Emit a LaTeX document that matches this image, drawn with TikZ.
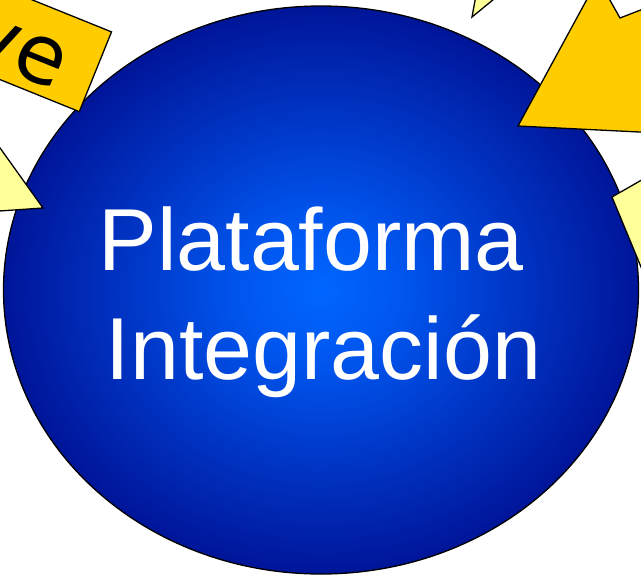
\documentclass[tikz,border=0pt]{standalone}
\usepackage{fontspec}
\setmainfont{Liberation Sans}
\newfontfamily\labelfont{DejaVu Sans}
\usetikzlibrary{shapes.geometric}
\definecolor{goldfill}{RGB}{255,204,0}
\definecolor{palefill}{RGB}{255,255,153}
\pgfdeclareradialshading{platglow}{\pgfpoint{0bp}{0bp}}{rgb(0bp)=(0,0.40,1);
  rgb(6bp)=(0,0.34,0.94); rgb(16bp)=(0,0.20,0.76); rgb(26bp)=(0,0.07,0.58);
  rgb(34bp)=(0,0.01,0.50); rgb(50bp)=(0,0,0.48)}
\tikzset{outline/.style={draw=black, line width=1.3pt, line join=miter},
  goldpatch/.style={outline, fill=goldfill},
  palepatch/.style={outline, fill=palefill}}

\begin{document}
\begin{tikzpicture}[x=1pt,y=-1pt]
  \useasboundingbox (0,0) rectangle (641,574);
  \clip (0,0) rectangle (641,574);
  % the platform
  \node[ellipse, outline, shading=platglow, inner sep=0pt,
        minimum width=635pt, minimum height=568pt] (plat) at (321,290) {};
  \node[white, inner sep=0pt, align=center, font=\fontsize{88}{109}\selectfont]
        (titulo) at (323.5,302.7) {Plataforma\kern.28em\\Integración};
  % label cut at the left border
  \node[goldpatch, rotate=-22, anchor=east, inner xsep=30pt, inner ysep=0pt,
        minimum height=86pt, text height=65pt, text depth=0pt,
        font=\labelfont\fontsize{82}{82}\selectfont] (etiqueta) at (96,72) {ve};
  % arrow heads around the platform
  \draw[palepatch] (43,208) -- (-30,106) -- (-30,213) -- cycle;
  \draw[palepatch] (472,17) -- (477,-10) -- (505,-10) -- cycle;
  \draw[goldpatch] (518,126) -- (598,-21) -- (620,18) -- (700,-13)
    -- (700,135) -- cycle;
  \draw[palepatch] (612,197) -- (680,158) -- (700,320) -- (663,320) -- cycle;
\end{tikzpicture}
\end{document}
